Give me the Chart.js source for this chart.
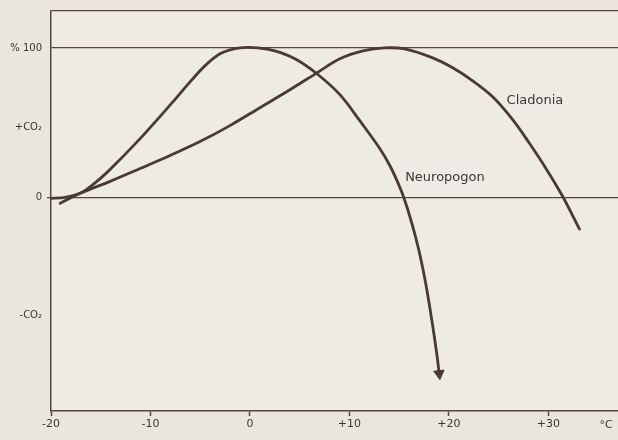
<!DOCTYPE html>
<html>
<head>
<meta charset="utf-8">
<script src="https://cdn.jsdelivr.net/npm/chart.js"></script>
<style>
  html, body { margin: 0; padding: 0; background: #ebe6dc; }
  #wrap { width: 618px; height: 440px; }
</style>
</head>
<body>
<div id="wrap"><canvas id="chart" width="618" height="440"></canvas></div>
<script>
// temperature (°C) / net CO2 exchange (% of max)
const neuroTemp = [-20.08, -18.57, -17.07, -15.76, -14.36, -11.04, -7.73, -6.02, -4.32, -2.81, -1.0, 0.8, 2.51, 4.52, 6.73, 9.04, 11.04, 13.05, 14.06, 14.86, 15.46, 16.27, 17.07, 17.77, 18.37, 18.78, 19.03]
const neuroCO2  = [-0.7, 0, 2.7, 8.7, 16.7, 39.3, 64, 77.3, 89.3, 96.7, 100, 100, 98, 92.7, 82.7, 68.7, 51.3, 32.7, 21.3, 10, 0, -17.3, -38, -61.3, -86, -104.7, -118]

const cladTemp = [-19.08, -17.07, -14.06, -11.04, -8.03, -5.02, -2.01, 1.0, 4.02, 6.73, 9.04, 11.35, 13.55, 15.56, 18.37, 20.38, 22.39, 24.4, 26.41, 28.11, 29.82, 31.43, 33.13]
const cladCO2  = [-4, 2.7, 10.7, 19.3, 28, 37.3, 48, 60, 72, 83.3, 92.7, 98, 100, 99.3, 93.3, 86.7, 78, 67.3, 52, 36, 18.7, 0.7, -21.3]

const xTicks = [-20, -10, 0, 10, 20, 30]
const xTickLabels = ['-20', '-10', '0', '+10', '+20', '+30']
const yTicks = [-79, 0, 47, 100]
const yTickLabels = ['-CO₂', '0', '+CO₂', '% 100']

const ink = '#4a3a34'
const axisInk = '#54463f'
const textInk = '#3b3633'

const toPoints = (xs, ys) => xs.map((x, i) => ({x: x, y: ys[i]}))

// plot background, curve names and the unit at the end of the x axis
const decor = {
  id: 'decor',
  beforeDraw(chart) {
    const {ctx, chartArea} = chart
    ctx.save()
    ctx.fillStyle = '#eeebe5'
    ctx.fillRect(chartArea.left, chartArea.top, chartArea.right - chartArea.left, chartArea.bottom - chartArea.top)
    ctx.restore()
  },
  afterDraw(chart) {
    const {ctx, scales} = chart
    ctx.save()
    ctx.fillStyle = textInk
    ctx.font = '13px "DejaVu Sans"'
    ctx.textBaseline = 'middle'
    ctx.fillText('Cladonia', scales.x.getPixelForValue(25.8), scales.y.getPixelForValue(64.7))
    ctx.fillText('Neuropogon', scales.x.getPixelForValue(15.6), scales.y.getPixelForValue(13.3))
    ctx.font = '11px "DejaVu Sans"'
    ctx.textAlign = 'center'
    ctx.textBaseline = 'top'
    ctx.fillText('°C', scales.x.getPixelForValue(35.8), scales.x.top + 9)
    ctx.restore()
  }
}

new Chart(document.getElementById('chart'), {
  type: 'line',
  data: {
    datasets: [{
      label: 'Neuropogon',
      data: toPoints(neuroTemp, neuroCO2),
      borderColor: ink,
      backgroundColor: ink,
      borderWidth: 2.8,
      tension: 0.35,
      pointRadius: ctx => ctx.dataIndex === neuroTemp.length - 1 ? 6 : 0,
      pointStyle: 'triangle',
      rotation: 174,
      pointBorderWidth: 1,
      borderCapStyle: 'round'
    }, {
      label: 'Cladonia',
      data: toPoints(cladTemp, cladCO2),
      borderColor: ink,
      borderWidth: 2.8,
      tension: 0.35,
      pointRadius: 0,
      borderCapStyle: 'round'
    }]
  },
  options: {
    responsive: false,
    animation: false,
    layout: {autoPadding: false, padding: {top: 9, right: 0, left: 0, bottom: 0}},
    plugins: {legend: {display: false}, tooltip: {enabled: false}},
    scales: {
      x: {
        type: 'linear',
        min: -20,
        max: 37,
        afterBuildTicks: s => { s.ticks = xTicks.map(v => ({value: v})) },
        afterFit: s => { s.height = 29 },
        ticks: {
          color: textInk,
          font: {family: 'DejaVu Sans', size: 11},
          padding: 2,
          maxRotation: 0,
          callback: v => xTickLabels[xTicks.indexOf(v)]
        },
        grid: {
          drawOnChartArea: false,
          tickLength: 5,
          tickColor: axisInk,
          tickWidth: 1.5
        },
        border: {color: axisInk, width: 1.5}
      },
      y: {
        type: 'linear',
        min: -143,
        max: 124.7,
        afterBuildTicks: s => { s.ticks = yTicks.map(v => ({value: v})).concat([{value: 124.7}]) },
        afterFit: s => { s.width = 51 },
        ticks: {
          color: textInk,
          font: {family: 'DejaVu Sans', size: 10},
          padding: 5,
          callback: v => v === 124.7 ? '' : yTickLabels[yTicks.indexOf(v)]
        },
        grid: {
          color: c => (c.tick && (c.tick.value === 0 || c.tick.value === 100 || c.tick.value === 124.7)) ? axisInk : 'rgba(0,0,0,0)',
          lineWidth: 1.3,
          tickLength: 4,
          tickColor: c => c.tick && c.tick.value === 0 ? axisInk : 'rgba(0,0,0,0)'
        },
        border: {color: axisInk, width: 1.5}
      }
    }
  },
  plugins: [decor]
})
</script>
</body>
</html>
